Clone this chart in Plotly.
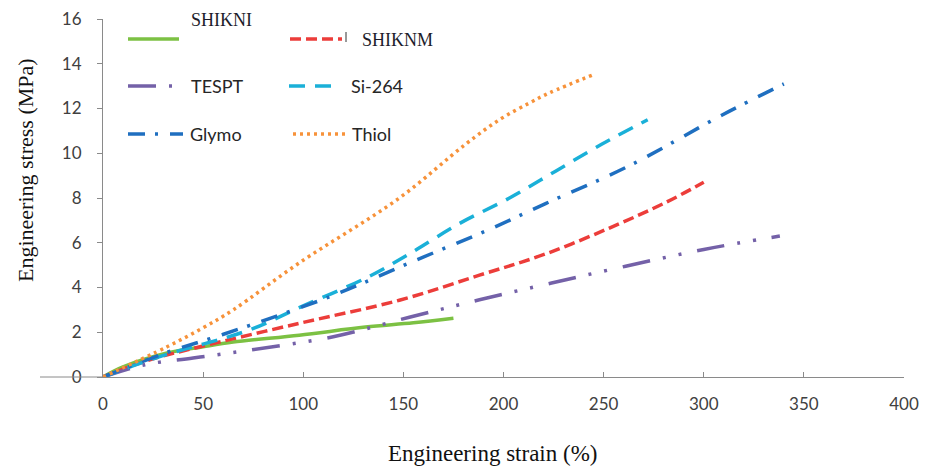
import plotly.graph_objects as go

# ---- data: engineering stress (MPa) vs engineering strain (%) ----
shikni_strain = [0, 10, 32, 50, 65, 98, 131, 155, 175]
shikni_stress = [0, 0.45, 1.07, 1.35, 1.56, 1.87, 2.23, 2.42, 2.63]

shiknm_strain = [0, 23, 48, 98, 148, 188, 221, 254, 281, 300]
shiknm_stress = [0, 0.76, 1.34, 2.4, 3.43, 4.55, 5.5, 6.7, 7.8, 8.7]

tespt_strain = [0, 21, 45, 73, 115, 153, 188, 224, 261, 300, 338]
tespt_stress = [0, 0.55, 0.85, 1.2, 1.8, 2.67, 3.45, 4.2, 4.95, 5.7, 6.3]

si264_strain = [0, 28, 73, 98, 133, 153, 178, 203, 226, 249, 272]
si264_stress = [0, 0.9, 2.1, 3.1, 4.5, 5.5, 6.86, 8.0, 9.2, 10.4, 11.5]

glymo_strain = [0, 32, 53, 73, 115, 153, 193, 221, 263, 309, 340]
glymo_stress = [0, 1.1, 1.7, 2.3, 3.65, 5.1, 6.6, 7.75, 9.45, 11.7, 13.1]

thiol_strain = [0, 32, 50, 65, 98, 148, 181, 198, 213, 223, 246]
thiol_stress = [0, 1.35, 2.2, 3.0, 5.1, 8.0, 10.4, 11.5, 12.25, 12.7, 13.55]

x_ticks = [0, 50, 100, 150, 200, 250, 300, 350, 400]
y_ticks = [0, 2, 4, 6, 8, 10, 12, 14, 16]

# ---- styles ----
W, H = 925, 472
L, R, T, B = 103, 21, 19, 95
PW, PH = W - L - R, H - T - B

AXIS_GRAY = "#8a8a8a"
TICK_FONT = dict(family="Lato, Calibri, sans-serif", size=17, color="#404040")
SERIF = "Liberation Serif, Times New Roman, serif"

series = [
    dict(name="SHIKNI", x=shikni_strain, y=shikni_stress, color="#7cc143", dash="solid"),
    dict(name="SHIKNM", x=shiknm_strain, y=shiknm_stress, color="#ec3d3a", dash="11px,5px"),
    dict(name="TESPT", x=tespt_strain, y=tespt_stress, color="#7461a8",
         dash="28px,13px,3px,13px,3px,16px"),
    dict(name="Si-264", x=si264_strain, y=si264_stress, color="#1ab0d8", dash="16px,10px"),
    dict(name="Glymo", x=glymo_strain, y=glymo_stress, color="#1f6fc0",
         dash="17px,10px,3px,12px"),
    dict(name="Thiol", x=thiol_strain, y=thiol_stress, color="#f7923a", dash="3px,4px"),
]

fig = go.Figure()
for s in series:
    fig.add_trace(go.Scatter(
        x=s["x"], y=s["y"], mode="lines", name=s["name"],
        line=dict(color=s["color"], width=3.5, dash=s["dash"], shape="spline", smoothing=1.0),
        showlegend=False,
    ))


def px_x(p):
    return (p - L) / PW


def px_y(p):
    return (H - B - p) / PH


# ---- in-plot key (two columns, three rows) ----
SANS_KEY = dict(family="Lato, sans-serif", size=18, color="#262626")
SERIF_KEY = dict(family=SERIF, size=18, color="#1c1c2a")
key = [
    # name, sample x0, x1, row y, text x, text y, font
    ("SHIKNI", 128, 179, 39, 189, 20, SERIF_KEY),
    ("SHIKNM", 290, 342, 39, 360, 40, SERIF_KEY),
    ("TESPT", 128, 175, 86, 189, 86, SANS_KEY),
    ("Si-264", 289, 333, 86, 349, 86, SANS_KEY),
    ("Glymo", 128, 183, 134, 188, 134, SANS_KEY),
    ("Thiol", 293, 345, 134, 350, 134, SANS_KEY),
]
style = {s["name"]: s for s in series}
shapes = []
annotations = []
for name, x0, x1, yr, tx, ty, font in key:
    st = style[name]
    shapes.append(dict(type="line", xref="paper", yref="paper",
                       x0=px_x(x0), x1=px_x(x1), y0=px_y(yr), y1=px_y(yr),
                       line=dict(color=st["color"], width=3.5, dash=st["dash"])))
    annotations.append(dict(text=name, xref="paper", yref="paper",
                            x=px_x(tx), y=px_y(ty), xanchor="left", yanchor="middle",
                            showarrow=False, font=font))

# small stroke after the SHIKNM sample
shapes.append(dict(type="line", xref="paper", yref="paper",
                   x0=px_x(346), x1=px_x(346), y0=px_y(32), y1=px_y(42),
                   line=dict(color="#333333", width=1)))

# baseline runs a little to the left of the vertical axis
shapes.append(dict(type="line", xref="paper", yref="paper",
                   x0=px_x(40), x1=0, y0=0, y1=0,
                   line=dict(color=AXIS_GRAY, width=1)))

# axis titles
annotations.append(dict(text="Engineering strain (%)", xref="paper", yref="paper",
                        x=px_x(492), y=px_y(454), xanchor="center", yanchor="middle",
                        showarrow=False, font=dict(family=SERIF, size=23, color="#111111")))
annotations.append(dict(text="Engineering stress (MPa)", xref="paper", yref="paper",
                        x=px_x(25), y=px_y(170), xanchor="center", yanchor="middle",
                        textangle=-90, showarrow=False,
                        font=dict(family=SERIF, size=22, color="#111111")))

fig.update_layout(
    width=W, height=H,
    margin=dict(l=L, r=R, t=T, b=B, pad=0, autoexpand=False),
    paper_bgcolor="white", plot_bgcolor="white",
    shapes=shapes, annotations=annotations,
    showlegend=False,
)
fig.update_xaxes(
    range=[0, 400], tickvals=x_ticks, ticktext=[str(v) for v in x_ticks],
    showgrid=False, zeroline=False, automargin=False,
    showline=True, linecolor=AXIS_GRAY, linewidth=1,
    ticks="inside", ticklen=5, tickcolor=AXIS_GRAY, tickwidth=1,
    tickfont=TICK_FONT, ticklabelstandoff=12,
)
fig.update_yaxes(
    range=[0, 16], tickvals=y_ticks, ticktext=[str(v) for v in y_ticks],
    showgrid=False, zeroline=False, automargin=False,
    showline=True, linecolor=AXIS_GRAY, linewidth=1,
    ticks="outside", ticklen=5, tickcolor=AXIS_GRAY, tickwidth=1,
    tickfont=TICK_FONT, ticklabelstandoff=12,
)

fig.write_html("out.html")
